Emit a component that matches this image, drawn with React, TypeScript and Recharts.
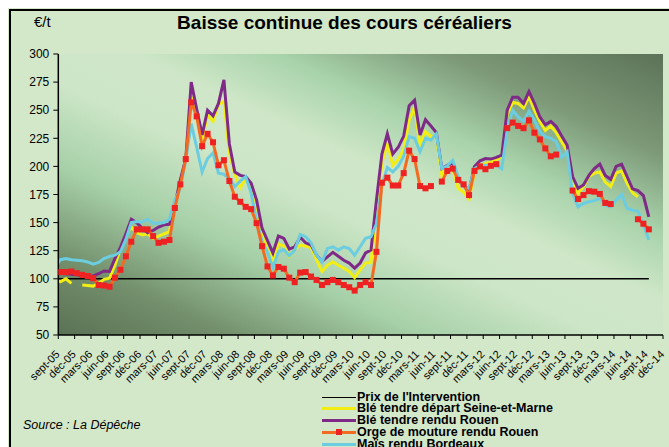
import { LineChart, Line, XAxis, YAxis, CartesianGrid } from "recharts";

// quarterly tick labels, one every 3 months
const TICK_LABELS = [
  "sept-05", "déc-05", "mars-06", "juin-06", "sept-06", "déc-06", "mars-07", "juin-07",
  "sept-07", "déc-07", "mars-08", "juin-08", "sept-08", "déc-08", "mars-09", "juin-09",
  "sept-09", "déc-09", "mars-10", "juin-10", "sept-10", "déc-10", "mars-11", "juin-11",
  "sept-11", "déc-11", "mars-12", "juin-12", "sept-12", "déc-12", "mars-13", "juin-13",
  "sept-13", "déc-13", "mars-14", "juin-14", "sept-14", "déc-14",
];
const Y_TICKS = [50, 75, 100, 125, 150, 175, 200, 225, 250, 275, 300];

const PRIX_INTERVENTION = 100;

// monthly prices, €/t, from sept-05
const BLE_SEINE_ET_MARNE = [
  98.5, 97.5, 100, 96, null, 94.5, 94, 93.5, 96, 99.5,
  100.5, 112, 127, 139, 146, 141, 139, 140, 136, 138,
  140, 142, 167, 186, 206, 262, 248, 224, 246, 240,
  255, 258, 212, 193, 181, 189, 180, 165, 143, 126,
  117, 131, 129, 120, 126, 130, 129, 128, 117, 106.5,
  112, 115, 112, 109.5, 106.5, 101, 108, 114, 114.5, 158,
  203, 221, 201, 206, 215, 241, 253, 219, 231, 226.5,
  226, 192, 197, 198, 180.5, 177, 171, 195, 201, 202.5,
  204, 206, 208.5, 246, 257, 256, 252, 262, 250, 240,
  232, 236, 230, 222, 214, 186, 176, 182, 191, 194,
  195, 186, 182, 194, 196, 185, 176.5, 173, null, null,
];

const BLE_ROUEN = [
  105, 105, 104.5, 104, 103.5, 103, 102.5, 102.5, 104.5, 107,
  106.5, 118, 128, 140, 153, 150, 145, 141, 143, 146,
  148, 148.5, 166, 188, 207, 275, 251, 228, 250, 245,
  256, 277, 220, 195, 192, 191, 185, 170, 145, 134,
  123, 138, 136, 126.5, 128.5, 137, 132, 130, 121, 115.5,
  119.5, 123.5, 120, 116.5, 114, 109.5, 114, 123, 125.5, 170,
  211, 229, 211, 217, 227, 254, 259, 228, 241.5, 236,
  230, 198, 201, 203, 188, 183, 179, 200, 205, 207,
  206.5, 208, 210, 250, 261.5, 261.5, 256, 266.5, 256, 244,
  237, 240, 235.5, 227, 219, 191, 180.5, 183.5, 192, 198,
  202, 192, 188.5, 200, 202, 191, 180, 178.5, 174, 155,
];

const ORGE_ROUEN = [
  106, 106, 106, 106.5, 105, 103.5, 102.5, 100.5, 94.5, 94,
  93, 101, 108, 120, 133, 144, 144, 144, 138, 132,
  133, 134.5, 163, 184, 206.5, 257, 244.5, 218, 229, 221.5,
  201, 205.5, 187, 173, 168.5, 164, 162, 149.5, 129, 111,
  103, 110.5, 109, 101, 97, 105.5, 106, 102, 99, 94.5,
  97, 99, 97, 94.5, 92.5, 89.5, 94.5, 97, 94.5, 124,
  185.5, 190, 183, 183, 194, 214, 206.5, 182.5, 180.5, 182.5,
  null, 186.5, 196, 198, 188, 184, 174.5, 196, 200, 197.5,
  200.5, 202, null, 234, 239, 236, 234, 241, 230, 224,
  216, 209, 210.5, null, null, 178.5, 171, 174.5, 178, 177.5,
  175.5, 167.5, 166.5, null, null, null, null, 153, 149, 144,
];

const MAIS_BORDEAUX = [
  111, 117, 118, 117, 116.5, 116, 115, 113, 114.5, 118,
  120, 121, 124, 135, 150, 151, 150.5, 153, 149.5, 149.5,
  150, 153, 170, 180.5, 206, 238, 217, 195, 207, 212,
  194, 193, 189, 182, 187, 191, 176, 152, 133, 124,
  110, 124, 126, 120.5, 125.5, 139.5, 137.5, 132, 121, 115,
  127, 128.5, 125.5, 128.5, 127, 121, 128.5, 136, 137.5, 149,
  183.5, 199, 195, 200, 209, 226.5, 225, 213, 225, 223.5,
  229, 198, 200.5, 205.5, 191, 182, 180.5, 198, 201, 201,
  201, 201, 198, 232, 250, 244, 240, 249, 241, 231,
  226.5, 225, 222, 208, 213, 176, 164, 167, 168.5, 169.5,
  171.5, 165.5, 164, 170, 175, 163, 161, 160, 148, 134.5,
];

const LEGEND = [
  { name: "Prix de l'Intervention", color: "#000000", width: 1.5, marker: false },
  { name: "Blé tendre départ Seine-et-Marne", color: "#f2ee14", width: 3, marker: false },
  { name: "Blé tendre rendu Rouen", color: "#7e2a86", width: 3, marker: false },
  { name: "Orge de mouture rendu Rouen", color: "#f26b21", width: 3, marker: true },
  { name: "Maïs rendu Bordeaux", color: "#6ccde0", width: 3, marker: false },
];

// months sit slightly left of the quarter ticks
const TICK_OFFSET = 0.6;
const tickPositions = TICK_LABELS.map((_, k) => TICK_OFFSET + 3 * k);

const data = BLE_ROUEN.map((_, i) => ({
  idx: i,
  prix: PRIX_INTERVENTION,
  ble77: BLE_SEINE_ET_MARNE[i],
  bleRouen: BLE_ROUEN[i],
  orge: ORGE_ROUEN[i],
  mais: MAIS_BORDEAUX[i],
}));

const FONT = '"Liberation Sans", Arial, sans-serif';

function MonthTick({ x, y, payload }: any) {
  const label = TICK_LABELS[Math.round((payload.value - TICK_OFFSET) / 3)];
  const tx = x + 2;
  const ty = y + 14;
  return (
    <text x={tx} y={ty} fontSize={11} fill="#000" textAnchor="end" transform={`rotate(-45, ${tx}, ${ty})`}>
      {label}
    </text>
  );
}

function SquareDot({ cx, cy }: any) {
  if (cx == null || cy == null) return null;
  return <rect x={cx - 3} y={cy - 3} width={6} height={6} fill="#ee2222" />;
}

function Legend() {
  return (
    <>
      {LEGEND.map((item, r) => (
        <div
          key={item.name}
          style={{
            position: "absolute",
            left: 314,
            top: 383.5 + 11.7 * r,
            height: 11.5,
            display: "flex",
            alignItems: "center",
            whiteSpace: "nowrap",
          }}
        >
          <span style={{ position: "relative", width: 34, height: 11, marginRight: 1 }}>
            <span
              style={{
                position: "absolute",
                left: 0,
                top: 5.5 - item.width / 2,
                width: 34,
                height: item.width,
                background: item.color,
              }}
            />
            {item.marker && (
              <span
                style={{ position: "absolute", left: 14, top: 2.5, width: 6, height: 6, background: "#ee2222" }}
              />
            )}
          </span>
          <span style={{ fontSize: 12.5, fontWeight: "bold", color: "#000", lineHeight: "11px" }}>{item.name}</span>
        </div>
      ))}
    </>
  );
}

export default function App() {
  return (
    <div
      style={{
        position: "fixed",
        left: 8,
        top: 8,
        width: 661,
        height: 439,
        overflow: "hidden",
        background: "#d3e7c9",
        fontFamily: FONT,
      }}
    >
      <div style={{ position: "absolute", left: 1, top: 1, width: 2, height: 438, background: "#000" }} />
      <div style={{ position: "absolute", left: 1, top: 1, width: 660, height: 2, background: "#000" }} />
      <div
        style={{
          position: "absolute",
          left: 0,
          width: 673,
          top: 4.5,
          textAlign: "center",
          fontSize: 19,
          fontWeight: "bold",
          lineHeight: "19px",
        }}
      >
        Baisse continue des cours céréaliers
      </div>
      <div style={{ position: "absolute", left: 26, top: 6, fontSize: 15, lineHeight: "15px" }}>€/t</div>

      <LineChart
        width={661}
        height={439}
        data={data}
        margin={{ top: 46, right: 6, bottom: 52, left: 10.3 }}
        style={{ position: "absolute", left: 0, top: 0 }}
      >
        <defs>
          <linearGradient id="plotBg" x1="0" y1="1" x2="1" y2="0">
            <stop offset="0%" stopColor="#5a7254" />
            <stop offset="14%" stopColor="#738f6c" />
            <stop offset="30%" stopColor="#a6d0a8" />
            <stop offset="45%" stopColor="#cde6c7" />
            <stop offset="56%" stopColor="#cfe7c8" />
            <stop offset="68%" stopColor="#a8d3ab" />
            <stop offset="82%" stopColor="#7d9977" />
            <stop offset="100%" stopColor="#5c7258" />
          </linearGradient>
        </defs>
        <CartesianGrid horizontal={false} vertical={false} fill="url(#plotBg)" fillOpacity={1} stroke="none" />
        <XAxis
          type="number"
          dataKey="idx"
          domain={[TICK_OFFSET, TICK_OFFSET + 3 * (TICK_LABELS.length - 1)]}
          ticks={tickPositions}
          interval={0}
          allowDataOverflow
          height={60}
          tickSize={4}
          axisLine={{ stroke: "#000", strokeWidth: 1.5 }}
          tickLine={{ stroke: "#000" }}
          tick={<MonthTick />}
        />
        <YAxis
          domain={[50, 300]}
          ticks={Y_TICKS}
          interval={0}
          allowDataOverflow
          width={40}
          tickSize={5}
          tickMargin={4}
          axisLine={{ stroke: "#000", strokeWidth: 1.5 }}
          tickLine={{ stroke: "#000" }}
          tick={{ fontSize: 12, fill: "#000" }}
        />
        <Line dataKey="prix" stroke="#000" strokeWidth={1.5} dot={false} activeDot={false} isAnimationActive={false} />
        <Line dataKey="ble77" stroke="#f2ee14" strokeWidth={3} dot={false} activeDot={false} isAnimationActive={false} />
        <Line dataKey="bleRouen" stroke="#7e2a86" strokeWidth={3} dot={false} activeDot={false} isAnimationActive={false} />
        <Line dataKey="mais" stroke="#6ccde0" strokeWidth={3} dot={false} activeDot={false} isAnimationActive={false} />
        <Line
          dataKey="orge"
          stroke="#f26b21"
          strokeWidth={3}
          dot={(p: any) => <SquareDot key={p.index} cx={p.cx} cy={p.cy} />}
          activeDot={false}
          isAnimationActive={false}
        />
      </LineChart>

      <div style={{ position: "absolute", left: 15, top: 410, fontSize: 12.5, fontStyle: "italic", lineHeight: "14px" }}>
        Source : La Dépêche
      </div>
      <Legend />
    </div>
  );
}
